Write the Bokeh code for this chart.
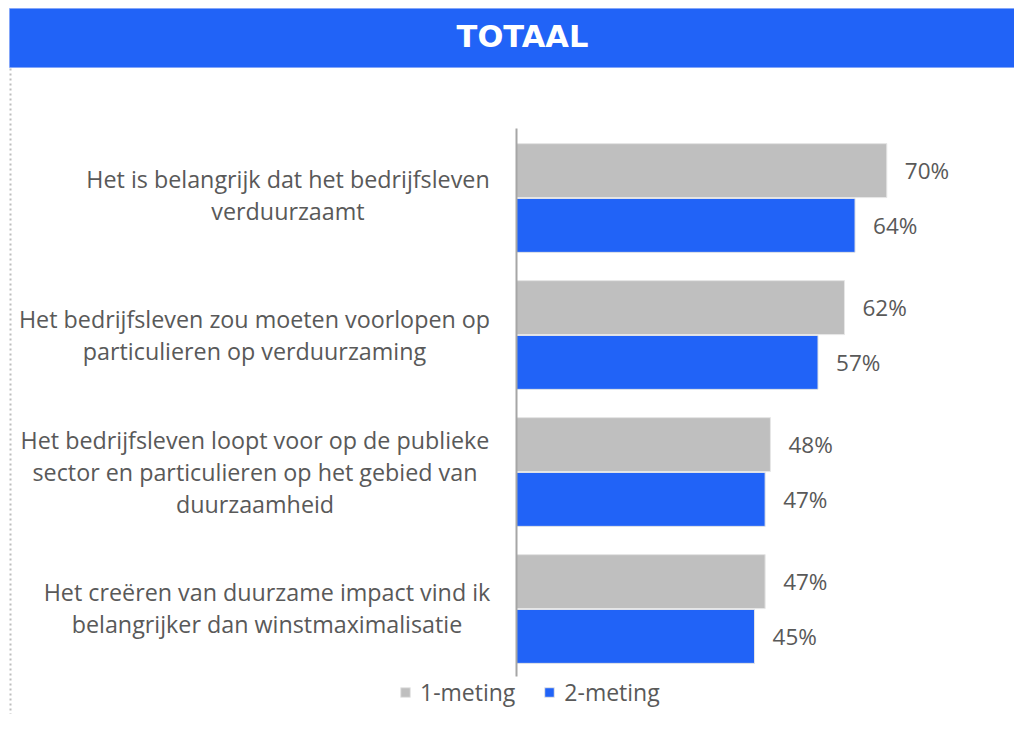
from bokeh.plotting import figure
from bokeh.models import Range1d, ColumnDataSource, Legend, LegendItem, Label, BoxAnnotation
from bokeh.core.properties import value
from bokeh.embed import file_html
from bokeh.resources import INLINE

# ---- data ----
categories = [
    "Het is belangrijk dat het bedrijfsleven\nverduurzaamt",
    "Het bedrijfsleven zou moeten voorlopen op\nparticulieren op verduurzaming",
    "Het bedrijfsleven loopt voor op de publieke\nsector en particulieren op het gebied van\nduurzaamheid",
    "Het creëren van duurzame impact vind ik\nbelangrijker dan winstmaximalisatie",
]
meting1 = [70, 62, 48, 47]
meting2 = [64, 57, 47, 45]
series_names = ["1-meting", "2-meting"]
title_text = "TOTAAL"

# ---- style / layout ----
BLUE = "#2163F7"
GRAY = "#BFBFBF"
TXT = "#595959"
FONT = "Open Sans"
W, H = 1014, 714
PX_PER_UNIT = 5.29
ZERO_PX = 516
ROW_PX = 137.0
ROW0_PX = 197.5  # px of first category centre


def xd(px):
    return (px - ZERO_PX) / PX_PER_UNIT


def yd(px):
    return (px - ROW0_PX) / ROW_PX


p = figure(width=W, height=H, output_backend="svg", toolbar_location=None,
           x_range=Range1d(xd(0), xd(W)), y_range=Range1d(yd(H), yd(0)),
           min_border=0, tools="")
p.axis.visible = False
p.grid.visible = False
p.outline_line_color = None
p.background_fill_color = "white"
p.border_fill_color = "white"

# left dotted border
p.segment(x0=[xd(10)], y0=[yd(68)], x1=[xd(10)], y1=[yd(H)],
          line_color="#BDBDBD", line_dash="2 3", line_width=2)

# banner
banner = BoxAnnotation(top=yd(8), bottom=yd(67), left=xd(9), fill_color=BLUE,
                       fill_alpha=1.0, line_color="#7FA2F8", line_width=1, line_alpha=0.7)
p.add_layout(banner)
p.add_layout(Label(x=xd(522), y=yd(36), text=title_text, text_align="center",
                   text_baseline="middle", text_color="white",
                   text_font="DejaVu Sans", text_font_style="bold",
                   text_font_size="30.5px"))

idx = list(range(len(categories)))
OFF = 0.2
BAR_H = 0.394
src1 = ColumnDataSource(dict(y=[i - OFF for i in idx], v=meting1,
                             lab=[f"{v}%" for v in meting1]))
src2 = ColumnDataSource(dict(y=[i + OFF for i in idx], v=meting2,
                             lab=[f"{v}%" for v in meting2]))

r1 = p.hbar(y="y", right="v", left=0, height=BAR_H, source=src1,
            fill_color=GRAY, line_color="#E6E6E6", line_width=1)
r2 = p.hbar(y="y", right="v", left=0, height=BAR_H, source=src2,
            fill_color=BLUE, line_color="#E6E6E6", line_width=1)

# value labels
for s in (src1, src2):
    p.text(x="v", y="y", text="lab", source=s, x_offset=18,
           text_align="left", text_baseline="middle", text_color=TXT,
           text_font=value(FONT), text_font_size="22.5px")

# axis line
p.line(x=[0, 0], y=[yd(128), yd(676)], line_color="#A6A6A6", line_width=2)

# category labels: each block centred on its longest line
label_center_px = [287.5, 254, 254.5, 266.5]
label_shift_px = [-3, 0, 0, -1]
csrc = ColumnDataSource(dict(x=[xd(c) for c in label_center_px],
                             y=[i + s / ROW_PX for i, s in zip(idx, label_shift_px)],
                             t=categories))
p.text(x="x", y="y", text="t", source=csrc, text_align="center",
       text_baseline="middle", text_color=TXT, text_font=value(FONT),
       text_font_size="23.3px", text_line_height=1.0)

legend = Legend(items=[LegendItem(label=series_names[0], renderers=[r1]),
                       LegendItem(label=series_names[1], renderers=[r2])],
                orientation="horizontal", location=(399, 6),
                glyph_width=12, glyph_height=12, label_standoff=9, spacing=28,
                padding=0, margin=0, border_line_color=None,
                background_fill_alpha=0, label_text_color=TXT,
                label_text_font=FONT, label_text_font_size="23px")
p.add_layout(legend)

open("out.html", "w").write(file_html(p, INLINE))
